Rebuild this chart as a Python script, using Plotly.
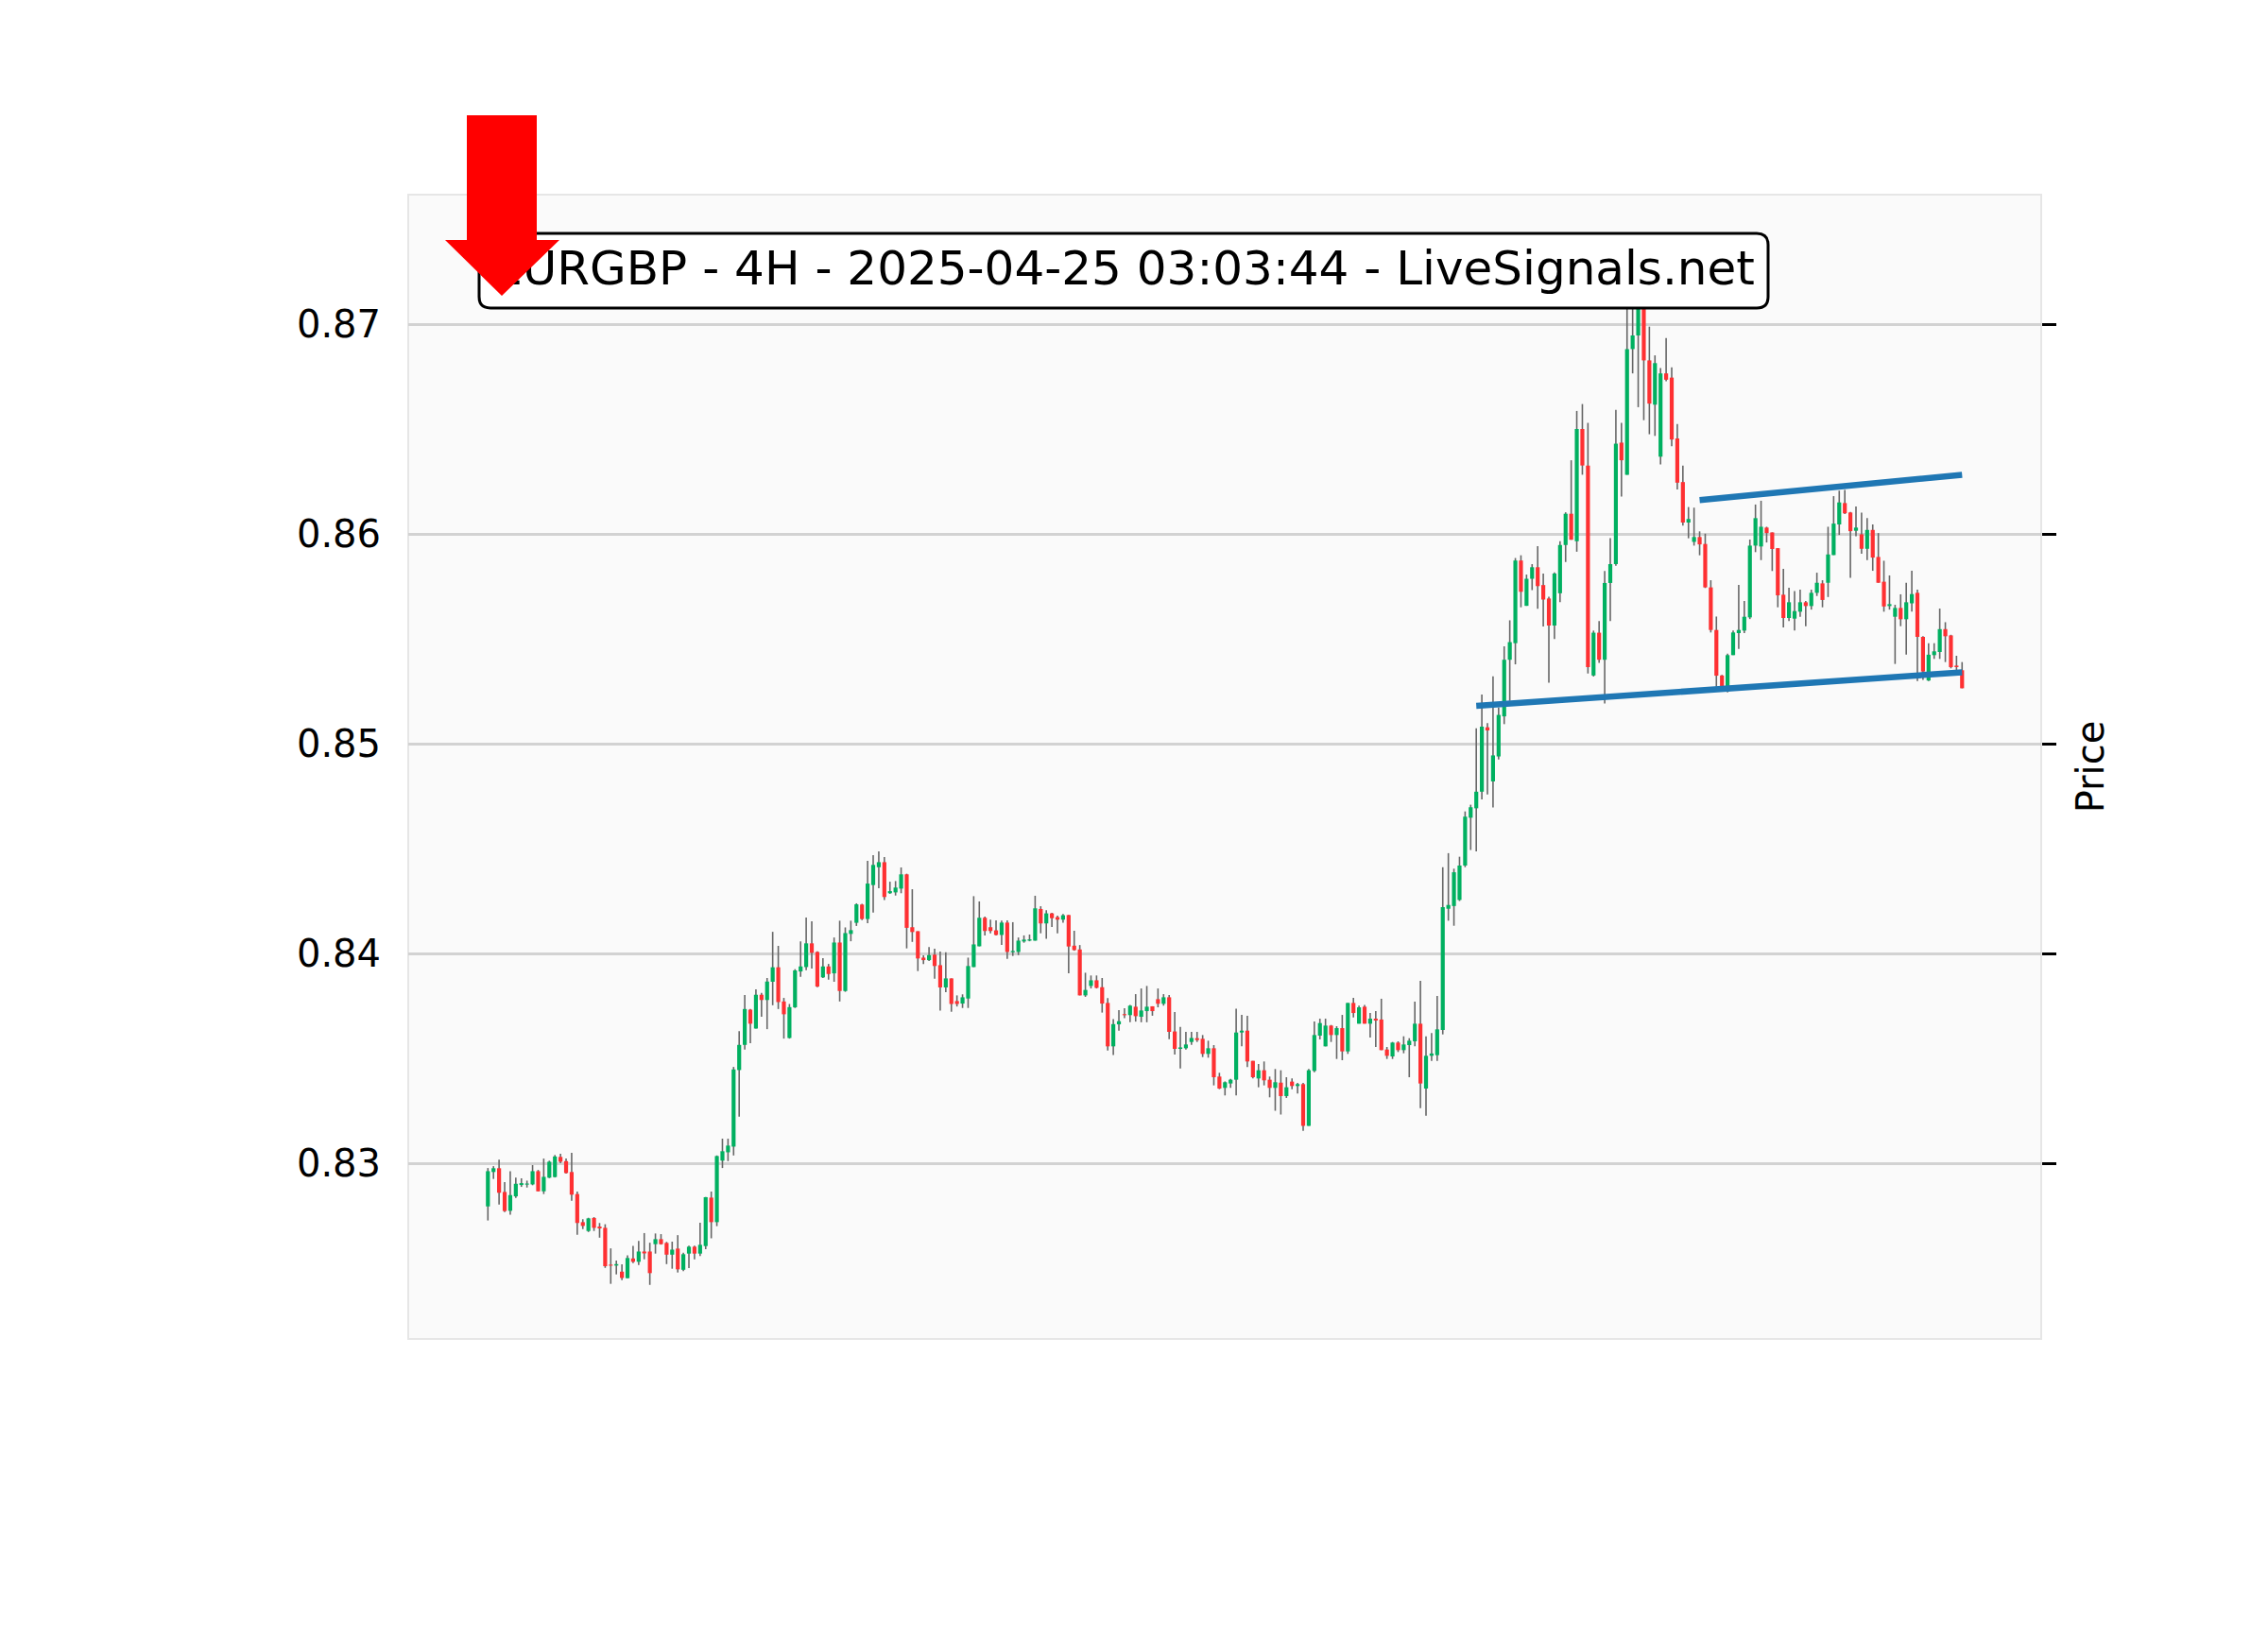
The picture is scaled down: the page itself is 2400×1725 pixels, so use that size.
import plotly.graph_objects as go

# ---------------- data (EURGBP 4H candles) ----------------
opens = [
0.82794,0.82958,0.82976,0.82863,0.82773,0.82842,0.82896,0.82899,0.82899,0.82962,
0.82866,0.82931,0.82934,0.83030,0.83010,0.82958,0.82853,0.82719,0.82677,0.82739,
0.82698,0.82692,0.82516,0.82512,0.82483,0.82452,0.82546,0.82530,0.82579,0.82579,
0.82614,0.82638,0.82620,0.82564,0.82593,0.82492,0.82569,0.82602,0.82569,0.82605,
0.82836,0.82719,0.83012,0.83052,0.83079,0.83444,0.83564,0.83732,0.83642,0.83803,
0.83778,0.83865,0.83934,0.83771,0.83597,0.83743,0.83914,0.83935,0.84048,0.84007,
0.83886,0.83938,0.83905,0.84052,0.83821,0.84093,0.84146,0.84233,0.84164,0.84326,
0.84411,0.84435,0.84287,0.84291,0.84309,0.84377,0.84125,0.84106,0.83980,0.83968,
0.83994,0.83944,0.83838,0.83881,0.83773,0.83761,0.83785,0.83935,0.84034,0.84170,
0.84125,0.84110,0.84088,0.84147,0.84006,0.84007,0.84057,0.84061,0.84061,0.84212,
0.84143,0.84191,0.84173,0.84161,0.84183,0.84037,0.84019,0.83800,0.83845,0.83872,
0.83839,0.83764,0.83557,0.83662,0.83710,0.83706,0.83746,0.83698,0.83725,0.83748,
0.83782,0.83760,0.83791,0.83628,0.83545,0.83548,0.83578,0.83596,0.83593,0.83521,
0.83548,0.83413,0.83359,0.83380,0.83398,0.83623,0.83632,0.83488,0.83404,0.83443,
0.83398,0.83359,0.83384,0.83320,0.83389,0.83368,0.83377,0.83178,0.83440,0.83608,
0.83557,0.83656,0.83611,0.83644,0.83533,0.83764,0.83665,0.83746,0.83665,0.83689,
0.83685,0.83542,0.83509,0.83575,0.83539,0.83563,0.83581,0.83665,0.83356,0.83512,
0.83515,0.83635,0.84213,0.84226,0.84255,0.84419,0.84647,0.84692,0.84771,0.85078,
0.84820,0.84939,0.85130,0.85400,0.85479,0.85873,0.85657,0.85786,0.85841,0.85756,
0.85692,0.85563,0.85717,0.85947,0.86096,0.85965,0.86500,0.86326,0.85325,0.85529,
0.85400,0.85766,0.85856,0.86435,0.86282,0.86881,0.86946,0.87300,0.86827,0.86616,
0.86368,0.86765,0.86745,0.86455,0.86247,0.86054,0.85962,0.85985,0.85952,0.85745,
0.85542,0.85325,0.85249,0.85422,0.85527,0.85539,0.85602,0.85944,0.85940,0.86030,
0.86007,0.85932,0.85710,0.85599,0.85596,0.85629,0.85674,0.85656,0.85719,0.85764,
0.85767,0.85899,0.86045,0.86147,0.86102,0.86015,0.85998,0.85929,0.86019,0.85890,
0.85772,0.85656,0.85605,0.85647,0.85593,0.85669,0.85719,0.85509,0.85301,0.85422,
0.85437,0.85546,0.85516,0.85372,0.85350]

highs = [
0.82977,0.82986,0.83017,0.82910,0.82962,0.82931,0.82928,0.82917,0.82991,0.82968,
0.83022,0.83012,0.83039,0.83045,0.83022,0.83050,0.82865,0.82733,0.82740,0.82743,
0.82715,0.82709,0.82594,0.82536,0.82518,0.82561,0.82606,0.82629,0.82667,0.82621,
0.82665,0.82662,0.82625,0.82626,0.82657,0.82573,0.82607,0.82607,0.82716,0.82839,
0.82865,0.83037,0.83117,0.83117,0.83459,0.83630,0.83802,0.83735,0.83829,0.83812,
0.83883,0.84103,0.84036,0.83788,0.83759,0.83925,0.84057,0.84171,0.84153,0.84010,
0.83977,0.83950,0.84076,0.84156,0.84124,0.84156,0.84239,0.84236,0.84441,0.84468,
0.84486,0.84459,0.84342,0.84345,0.84410,0.84380,0.84306,0.84106,0.83991,0.84030,
0.84022,0.84009,0.84006,0.83881,0.83800,0.83805,0.83980,0.84273,0.84248,0.84176,
0.84161,0.84158,0.84156,0.84158,0.84149,0.84076,0.84086,0.84090,0.84275,0.84225,
0.84206,0.84194,0.84180,0.84188,0.84183,0.84108,0.84040,0.83908,0.83895,0.83895,
0.83883,0.83787,0.83687,0.83730,0.83739,0.83755,0.83806,0.83833,0.83845,0.83748,
0.83833,0.83806,0.83802,0.83721,0.83650,0.83626,0.83626,0.83626,0.83611,0.83584,
0.83563,0.83431,0.83390,0.83402,0.83737,0.83707,0.83703,0.83488,0.83473,0.83485,
0.83413,0.83449,0.83443,0.83410,0.83404,0.83383,0.83383,0.83449,0.83676,0.83689,
0.83689,0.83659,0.83653,0.83707,0.83764,0.83788,0.83751,0.83754,0.83716,0.83725,
0.83784,0.83554,0.83578,0.83581,0.83605,0.83596,0.83770,0.83869,0.83605,0.83620,
0.83797,0.84411,0.84478,0.84404,0.84461,0.84677,0.84709,0.85073,0.85234,0.85098,
0.85321,0.85172,0.85464,0.85588,0.85885,0.85898,0.85806,0.85856,0.85942,0.85811,
0.85700,0.85816,0.85965,0.86103,0.86351,0.86586,0.86619,0.86529,0.85539,0.85584,
0.85823,0.85980,0.86591,0.86529,0.87120,0.87180,0.87368,0.87340,0.86988,0.86851,
0.86790,0.86933,0.86794,0.86524,0.86326,0.86128,0.86125,0.86012,0.86001,0.85779,
0.85606,0.85328,0.85429,0.85539,0.85757,0.85680,0.85973,0.86140,0.86158,0.86034,
0.86007,0.85932,0.85833,0.85743,0.85727,0.85734,0.85680,0.85734,0.85815,0.85779,
0.86034,0.86180,0.86206,0.86210,0.86105,0.86131,0.86101,0.86075,0.86045,0.86004,
0.85872,0.85802,0.85662,0.85712,0.85767,0.85824,0.85734,0.85512,0.85479,0.85479,
0.85644,0.85579,0.85519,0.85419,0.85389]

lows = [
0.82727,0.82925,0.82803,0.82767,0.82754,0.82835,0.82887,0.82884,0.82895,0.82866,
0.82853,0.82929,0.82932,0.83000,0.82950,0.82821,0.82659,0.82686,0.82672,0.82677,
0.82645,0.82501,0.82425,0.82470,0.82443,0.82452,0.82524,0.82515,0.82542,0.82420,
0.82569,0.82612,0.82519,0.82497,0.82479,0.82485,0.82500,0.82542,0.82557,0.82590,
0.82642,0.82700,0.82977,0.83010,0.83037,0.83222,0.83542,0.83572,0.83642,0.83698,
0.83639,0.83753,0.83735,0.83594,0.83594,0.83740,0.83889,0.83920,0.83928,0.83839,
0.83883,0.83875,0.83865,0.83771,0.83817,0.84058,0.84131,0.84159,0.84144,0.84195,
0.84311,0.84254,0.84284,0.84276,0.84287,0.84024,0.84055,0.83916,0.83949,0.83964,
0.83880,0.83727,0.83815,0.83722,0.83747,0.83740,0.83740,0.83935,0.84034,0.84086,
0.84096,0.84086,0.84040,0.83974,0.83988,0.83992,0.84051,0.84058,0.84061,0.84096,
0.84070,0.84126,0.84096,0.84146,0.83905,0.84013,0.83800,0.83793,0.83833,0.83833,
0.83718,0.83537,0.83516,0.83632,0.83692,0.83672,0.83675,0.83672,0.83672,0.83703,
0.83743,0.83751,0.83591,0.83518,0.83452,0.83542,0.83564,0.83578,0.83506,0.83503,
0.83371,0.83353,0.83323,0.83359,0.83323,0.83557,0.83458,0.83404,0.83362,0.83371,
0.83314,0.83250,0.83232,0.83311,0.83353,0.83332,0.83154,0.83178,0.83434,0.83590,
0.83557,0.83578,0.83497,0.83491,0.83521,0.83695,0.83665,0.83665,0.83599,0.83554,
0.83539,0.83497,0.83497,0.83530,0.83524,0.83410,0.83557,0.83262,0.83226,0.83488,
0.83488,0.83614,0.84156,0.84132,0.84250,0.84411,0.84493,0.84486,0.84734,0.84758,
0.84696,0.84924,0.85093,0.85204,0.85378,0.85650,0.85657,0.85732,0.85643,0.85558,
0.85291,0.85499,0.85675,0.85866,0.85972,0.85915,0.86282,0.85335,0.85320,0.85385,
0.85192,0.85584,0.85848,0.86178,0.86282,0.86765,0.86604,0.86542,0.86475,0.86467,
0.86331,0.86728,0.86418,0.86212,0.86039,0.85979,0.85944,0.85898,0.85742,0.85530,
0.85271,0.85256,0.85244,0.85422,0.85452,0.85527,0.85594,0.85913,0.85875,0.85959,
0.85823,0.85650,0.85554,0.85584,0.85539,0.85605,0.85560,0.85639,0.85704,0.85650,
0.85699,0.85899,0.85995,0.86095,0.85790,0.85989,0.85905,0.85875,0.85824,0.85767,
0.85629,0.85639,0.85380,0.85560,0.85425,0.85629,0.85298,0.85304,0.85298,0.85404,
0.85404,0.85389,0.85359,0.85350,0.85264]

closes = [
0.82962,0.82976,0.82859,0.82772,0.82848,0.82902,0.82905,0.82902,0.82962,0.82866,
0.82935,0.83007,0.83032,0.83007,0.82953,0.82850,0.82715,0.82701,0.82737,0.82692,
0.82689,0.82509,0.82512,0.82519,0.82453,0.82548,0.82530,0.82579,0.82570,0.82476,
0.82638,0.82614,0.82564,0.82588,0.82494,0.82566,0.82602,0.82569,0.82611,0.82838,
0.82719,0.83034,0.83057,0.83084,0.83447,0.83564,0.83735,0.83665,0.83803,0.83778,
0.83866,0.83934,0.83768,0.83710,0.83744,0.83919,0.83938,0.84048,0.84003,0.83842,
0.83938,0.83902,0.84052,0.83821,0.84097,0.84111,0.84234,0.84164,0.84333,0.84422,
0.84435,0.84269,0.84297,0.84314,0.84377,0.84122,0.84102,0.83976,0.83968,0.83992,
0.83940,0.83838,0.83881,0.83759,0.83759,0.83791,0.83940,0.84043,0.84170,0.84107,
0.84107,0.84088,0.84147,0.84007,0.84012,0.84061,0.84066,0.84067,0.84215,0.84143,
0.84191,0.84168,0.84161,0.84182,0.84033,0.84016,0.83800,0.83826,0.83872,0.83836,
0.83761,0.83557,0.83663,0.83677,0.83706,0.83751,0.83701,0.83728,0.83746,0.83725,
0.83760,0.83791,0.83626,0.83545,0.83552,0.83566,0.83597,0.83587,0.83521,0.83548,
0.83410,0.83356,0.83386,0.83398,0.83623,0.83632,0.83485,0.83410,0.83443,0.83395,
0.83359,0.83386,0.83320,0.83362,0.83368,0.83377,0.83178,0.83443,0.83611,0.83668,
0.83656,0.83611,0.83644,0.83533,0.83764,0.83716,0.83743,0.83665,0.83689,0.83680,
0.83539,0.83512,0.83575,0.83539,0.83566,0.83584,0.83665,0.83380,0.83512,0.83523,
0.83638,0.84221,0.84231,0.84387,0.84419,0.84652,0.84697,0.84771,0.85081,0.85063,
0.84944,0.85137,0.85400,0.85484,0.85873,0.85724,0.85786,0.85841,0.85751,0.85687,
0.85563,0.85811,0.85947,0.86096,0.85972,0.86500,0.86326,0.85365,0.85529,0.85400,
0.85766,0.85856,0.86430,0.86351,0.86881,0.86946,0.87310,0.86827,0.86621,0.86814,
0.86765,0.86735,0.86450,0.86244,0.86054,0.86071,0.85985,0.85950,0.85745,0.85542,
0.85324,0.85271,0.85422,0.85530,0.85542,0.85605,0.85944,0.86075,0.86034,0.86004,
0.85928,0.85707,0.85599,0.85674,0.85632,0.85674,0.85656,0.85719,0.85767,0.85685,
0.85902,0.86049,0.86150,0.86098,0.86013,0.86030,0.85929,0.86019,0.85887,0.85767,
0.85654,0.85665,0.85647,0.85593,0.85674,0.85713,0.85509,0.85344,0.85424,0.85440,
0.85546,0.85512,0.85365,0.85365,0.85264]

# trend lines (candle index, price)
support_x = [177, 264]
support_y = [0.85180, 0.85340]
resist_x = [217, 264]
resist_y = [0.86161, 0.86282]

y_ticks = [0.83, 0.84, 0.85, 0.86, 0.87]
y_tick_text = ["0.83", "0.84", "0.85", "0.86", "0.87"]
title_text = "EURGBP - 4H - 2025-04-25 03:03:44 - LiveSignals.net"

# ---------------- styling ----------------
UP = "#00b060"
DOWN = "#fe3032"
WICK = "#666666"
FONT = "DejaVu Sans"
MIN_BODY = 0.00005

PAGE_W, PAGE_H = 2400, 1725
OFF = 8                              # default body margin of the html page
L, R, T, B = 432, 2160, 206, 1417    # plot area in page pixels

# price <-> pixel calibration (0.84 at y=1009, 0.01 per 222 px)
def price_at(ypix):
    return 0.84 - (ypix - 1009) / 22200.0

Y_RANGE = [price_at(B), price_at(T)]
# candle index <-> pixel calibration (index 0 at x=516.3, 5.909 px per candle)
X_RANGE = [(L - 516.3) / 5.909, (R - 516.3) / 5.909]

fig = go.Figure()

n = len(opens)
idx = list(range(n))

# wicks
wx, wy = [], []
for i in idx:
    hi = max(highs[i], opens[i], closes[i])
    lo = min(lows[i], opens[i], closes[i])
    wx += [i, i, None]
    wy += [lo, hi, None]
fig.add_trace(go.Scatter(x=wx, y=wy, mode="lines",
                         line=dict(color=WICK, width=1.6),
                         hoverinfo="skip", showlegend=False))

# bodies
for up, col in ((True, UP), (False, DOWN)):
    bx, by = [], []
    for i in idx:
        if (closes[i] >= opens[i]) != up:
            continue
        a, b = min(opens[i], closes[i]), max(opens[i], closes[i])
        if b - a < MIN_BODY:
            m = (a + b) / 2
            a, b = m - MIN_BODY / 2, m + MIN_BODY / 2
        bx += [i, i, None]
        by += [a, b, None]
    fig.add_trace(go.Scatter(x=bx, y=by, mode="lines",
                             line=dict(color=col, width=4.2),
                             hoverinfo="skip", showlegend=False))

# trend lines
for xs, ys in ((support_x, support_y), (resist_x, resist_y)):
    fig.add_trace(go.Scatter(x=xs, y=ys, mode="lines",
                             line=dict(color="#1f77b4", width=6.5),
                             hoverinfo="skip", showlegend=False))

# invisible anchor for the right-side axis
fig.add_trace(go.Scatter(x=[idx[0]], y=[closes[0]], yaxis="y2", mode="markers",
                         marker=dict(opacity=0), hoverinfo="skip", showlegend=False))


def px(xp):
    return (xp - L) / (R - L)


def py(yp):
    return (B - yp) / (B - T)


# rounded title box
bx0, bx1, by0, by1 = px(507), px(1871), py(326), py(247)
rx, ry = 12 / (R - L), 12 / (B - T)
box_path = (f"M {bx0+rx},{by1} L {bx1-rx},{by1} Q {bx1},{by1} {bx1},{by1-ry} "
            f"L {bx1},{by0+ry} Q {bx1},{by0} {bx1-rx},{by0} L {bx0+rx},{by0} "
            f"Q {bx0},{by0} {bx0},{by0+ry} L {bx0},{by1-ry} Q {bx0},{by1} {bx0+rx},{by1} Z")
text_y = py(280)

arrow_pts = [(494, 122), (568, 122), (568, 254), (592, 254), (531, 313), (471, 254), (494, 254)]
arrow_path = "M " + " L ".join(f"{px(a)},{py(b)}" for a, b in arrow_pts) + " Z"

fig.update_layout(
    width=PAGE_W - OFF, height=PAGE_H - OFF,
    margin=dict(l=L - OFF, r=PAGE_W - R, t=T - OFF, b=PAGE_H - B, pad=0),
    paper_bgcolor="white",
    plot_bgcolor="#fafafa",
    showlegend=False,
    font=dict(family=FONT, color="black"),
    xaxis=dict(range=X_RANGE, showgrid=False, zeroline=False,
               showticklabels=False, ticks="", showline=False),
    yaxis=dict(range=Y_RANGE, tickvals=y_ticks, ticktext=y_tick_text,
               showgrid=True, gridcolor="#d2d2d2", gridwidth=2.5,
               zeroline=False, ticks="", showline=False,
               tickfont=dict(family=FONT, size=40, color="black"),
               ticklabelstandoff=28),
    yaxis2=dict(range=Y_RANGE, tickvals=y_ticks, overlaying="y", side="right",
                showgrid=False, zeroline=False, showticklabels=False,
                ticks="outside", ticklen=15, tickwidth=2.5, tickcolor="black",
                showline=False,
                title=dict(text="Price", standoff=22,
                           font=dict(family=FONT, size=40, color="black"))),
    shapes=[
        dict(type="rect", xref="paper", yref="paper", x0=0, y0=0, x1=1, y1=1,
             line=dict(color="#e6e6e6", width=2), layer="below"),
        dict(type="path", xref="paper", yref="paper", path=box_path,
             fillcolor="white", line=dict(color="black", width=3), layer="above"),
        dict(type="line", xref="paper", yref="paper", x0=bx0, x1=bx1,
             y0=text_y, y1=text_y, line=dict(color="rgba(0,0,0,0)", width=1),
             layer="above",
             label=dict(text=title_text, textposition="middle",
                        yanchor="middle", padding=0,
                        font=dict(family=FONT, size=50, color="black"))),
        dict(type="path", xref="paper", yref="paper", path=arrow_path,
             fillcolor="#ff0000", line=dict(width=0), layer="above"),
    ],
)

fig.write_html("out.html")
